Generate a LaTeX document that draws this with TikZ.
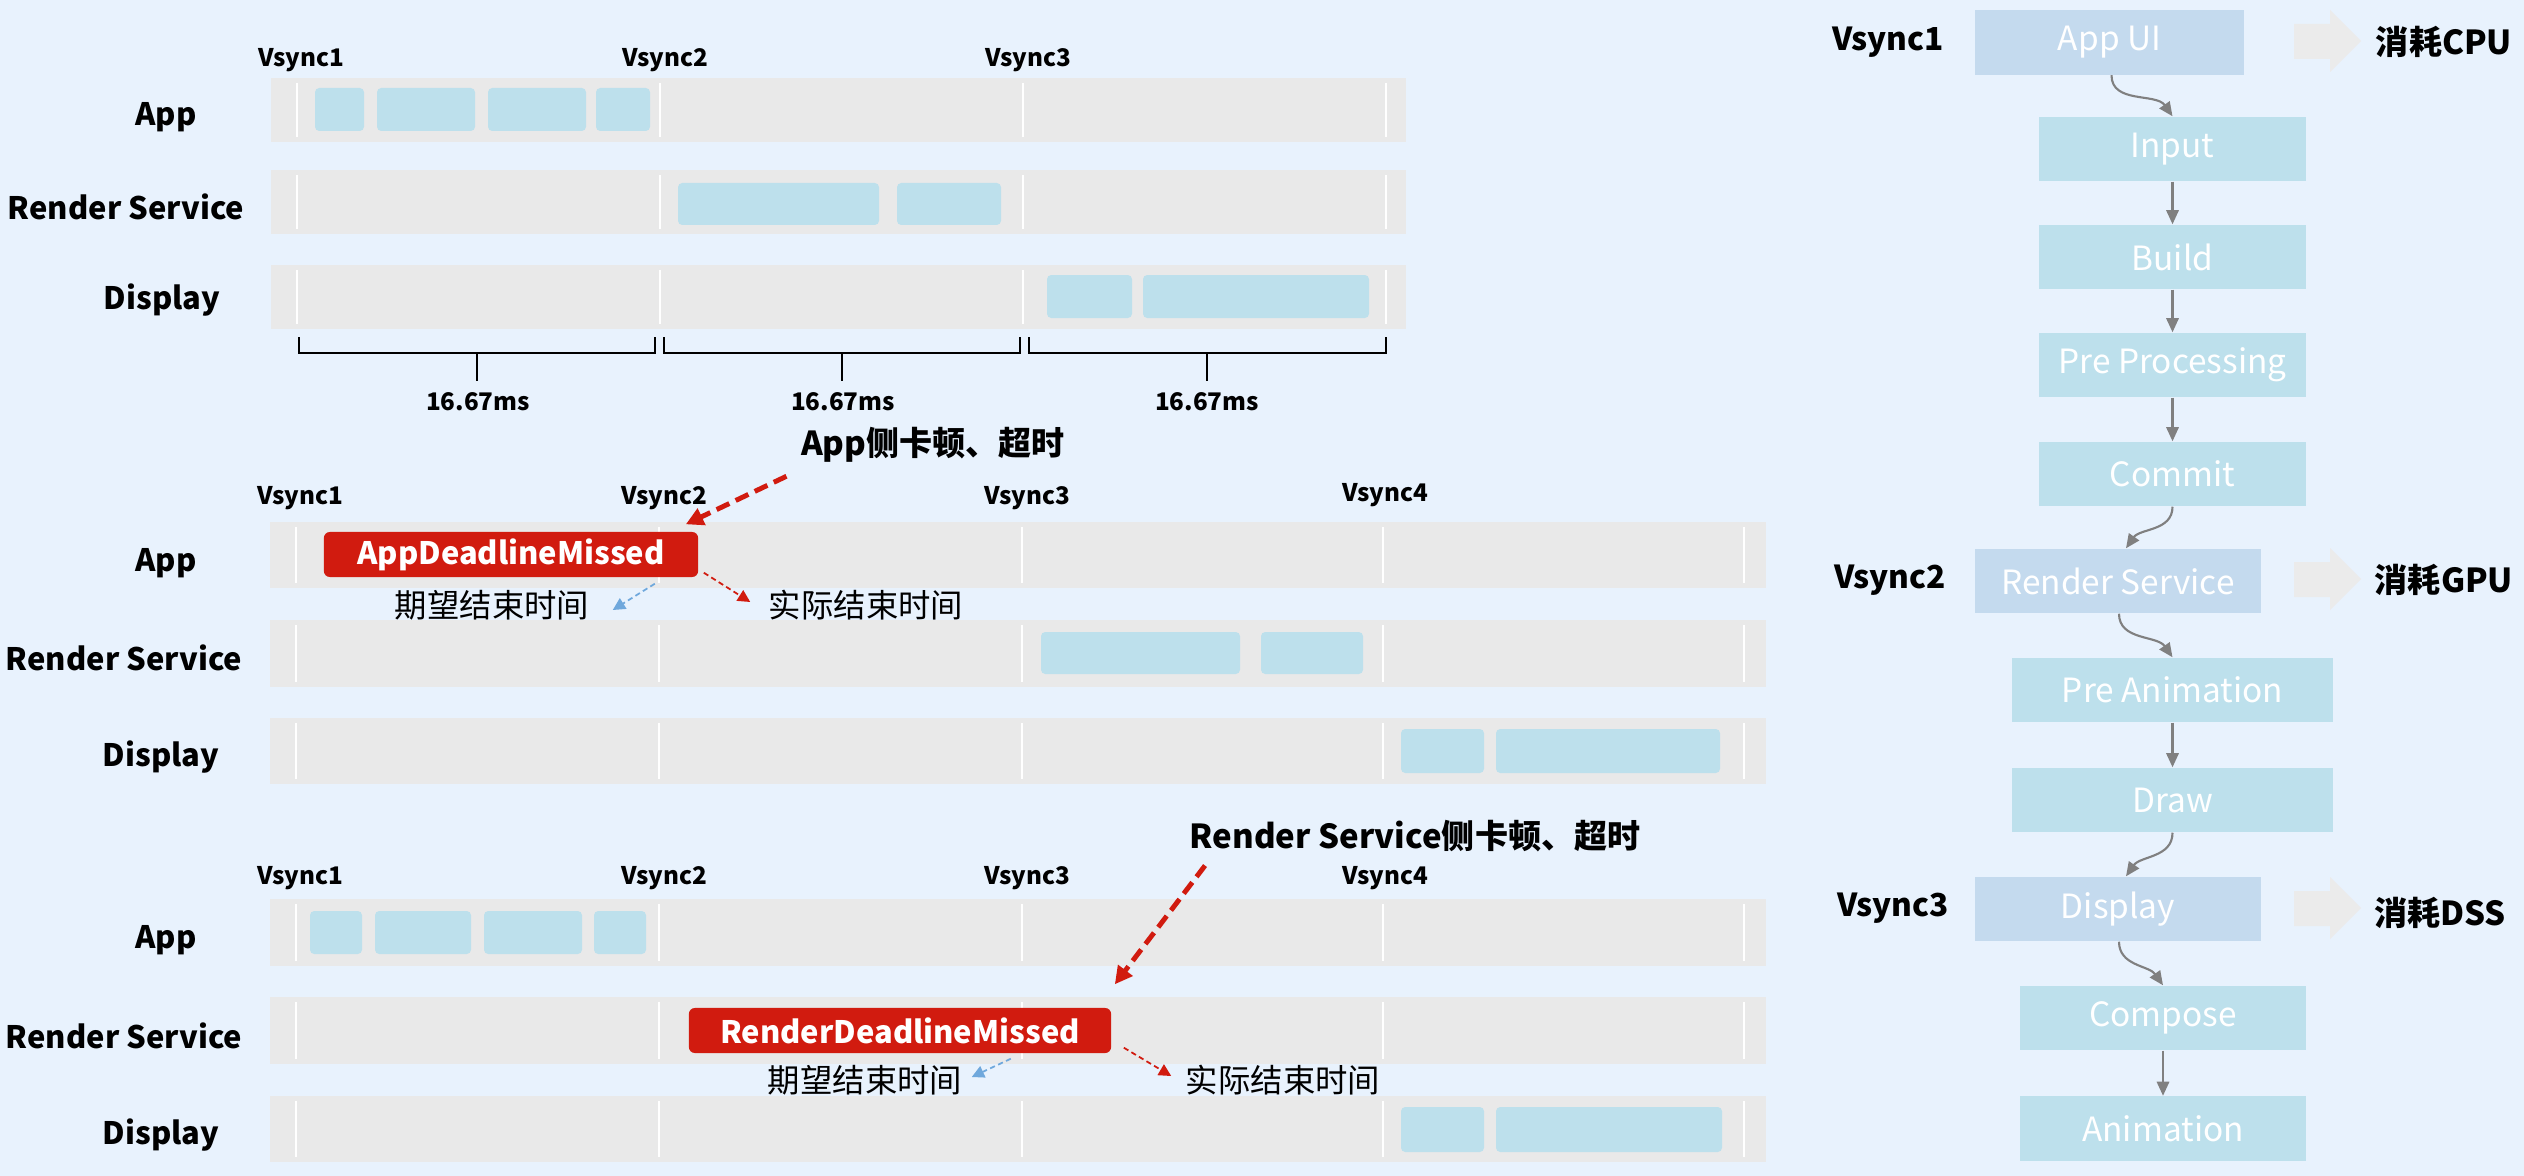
\documentclass[tikz,border=0pt]{standalone}
\usepackage{fontspec}
\setmainfont{Noto Sans CJK SC}
\usetikzlibrary{arrows.meta, positioning}
\definecolor{bgblue}{HTML}{E8F2FD}
\definecolor{trackgray}{HTML}{E9E9E9}
\definecolor{sliceblue}{HTML}{BDE0EC}
\definecolor{stageblue}{HTML}{C4DAEE}
\definecolor{missred}{HTML}{D11B0F}
\definecolor{hintblue}{HTML}{6FA8DC}
\definecolor{flowgray}{HTML}{808080}
\definecolor{pushgray}{HTML}{EBEBEB}

\begin{document}
\begin{tikzpicture}[x=0.01cm, y=-0.01cm,
    lane/.style={font=\fontsize{8.8}{10}\selectfont\bfseries, inner sep=0pt},
    tick/.style={font=\fontsize{6.9}{8}\selectfont\bfseries, inner sep=0pt},
    note/.style={font=\fontsize{9.4}{11}\selectfont\bfseries, inner sep=0pt},
    hint/.style={font=\fontsize{9.2}{11}\selectfont, inner sep=0pt},
    missed/.style={fill=missred, text=white, rounded corners=1.7pt, minimum height=0.45cm, inner sep=0pt, font=\fontsize{8.8}{10}\selectfont\bfseries},
    track/.style={fill=trackgray},
    slice/.style={fill=sliceblue, rounded corners=1.2pt},
    sep/.style={white, line width=0.6pt},
    brace/.style={line width=0.6pt},
    bigdash/.style={missred, line width=1.4pt, dash pattern=on 4pt off 2pt, -{Triangle[length=5pt,width=5pt]}},
    reddash/.style={missred, line width=0.5pt, dash pattern=on 1.5pt off 1pt, -{Triangle[length=3.5pt,width=3.5pt]}},
    bluedash/.style={hintblue, line width=0.5pt, dash pattern=on 1.5pt off 1pt, -{Triangle[length=3.5pt,width=3.5pt]}},
    major/.style={fill=stageblue, text=white, minimum height=0.64cm, inner sep=0pt, font=\fontsize{9.5}{11}\selectfont},
    minor/.style={fill=sliceblue, text=white, minimum height=0.64cm, inner sep=0pt, font=\fontsize{9.5}{11}\selectfont},
    flow/.style={flowgray, line width=0.6pt, -{Triangle[length=4pt,width=3.5pt]}},
    vtag/.style={font=\fontsize{9}{11}\selectfont\bfseries, inner sep=0pt},
]
    \fill[bgblue] (0,0) rectangle (2524,1176);
    \useasboundingbox (0,0) rectangle (2524,1176);

    \node[tick] (a1) at (301,60) {Vsync1};
    \node[tick] (a2) at (665,60) {Vsync2};
    \node[tick] (a3) at (1028,60) {Vsync3};
    \node[lane] (aapp) at (166,117) {App};
    \node[lane] (ars) at (126,207) {Render Service};
    \node[lane] (adisp) at (162,300) {Display};
    \fill[track] (271,78) rectangle (1406,142);
    \fill[track] (271,170) rectangle (1406,234);
    \fill[track] (271,265) rectangle (1406,329);
    \foreach \t/\b in {83/137, 175/229, 270/324}
        \foreach \x in {297, 660, 1023, 1386}
            \draw[sep] (\x,\t) -- (\x,\b);
    \fill[slice] (315,88) rectangle (364,131);
    \fill[slice] (377,88) rectangle (475,131);
    \fill[slice] (488,88) rectangle (586,131);
    \fill[slice] (596,88) rectangle (650,131);
    \fill[slice] (678,183) rectangle (879,225);
    \fill[slice] (897,183) rectangle (1001,225);
    \fill[slice] (1047,275) rectangle (1132,318);
    \fill[slice] (1143,275) rectangle (1369,318);
    \draw[brace] (299,337) -- (299,353) -- (655,353) -- (655,337);
    \draw[brace] (477,353) -- (477,381);
    \draw[brace] (664,337) -- (664,353) -- (1020,353) -- (1020,337);
    \draw[brace] (842,353) -- (842,381);
    \draw[brace] (1029,337) -- (1029,353) -- (1386,353) -- (1386,337);
    \draw[brace] (1207,353) -- (1207,381);
    \node[tick] (d1) at (478,402) {16.67ms};
    \node[tick] (d2) at (843,402) {16.67ms};
    \node[tick] (d3) at (1207,402) {16.67ms};

    \node[note] (annA) at (933,445) {App侧卡顿、超时};
    \node[tick] (b1) at (300,498) {Vsync1};
    \node[tick] (b2) at (664,498) {Vsync2};
    \node[tick] (b3) at (1027,498) {Vsync3};
    \node[tick] (b4) at (1385,495) {Vsync4};
    \node[lane] (bapp) at (166,563) {App};
    \node[lane] (brs) at (124,658) {Render Service};
    \node[lane] (bdisp) at (161,757) {Display};
    \fill[track] (270,522) rectangle (1766,588);
    \fill[track] (270,620) rectangle (1766,687);
    \fill[track] (270,718) rectangle (1766,784);
    \foreach \t/\b in {527/583, 625/682, 723/779}
        \foreach \x in {296, 659, 1022, 1383, 1744}
            \draw[sep] (\x,\t) -- (\x,\b);
    \fill[slice] (1041,632) rectangle (1240,674);
    \fill[slice] (1261,632) rectangle (1363,674);
    \fill[slice] (1401,729) rectangle (1484,773);
    \fill[slice] (1496,729) rectangle (1720,773);
    \node[missed, minimum width=3.74cm] (admiss) at (511,554.5) {AppDeadlineMissed};
    \node[hint] (expA) at (492,605) {期望结束时间};
    \node[hint] (actA) at (866,605) {实际结束时间};
    \draw[bigdash] ([shift={(-14,13)}]annA.south west) -- ([shift={(-13,-7)}]admiss.north east);
    \draw[bluedash] ([shift={(-44,6)}]admiss.south east) -- ([shift={(23,5)}]expA.east);
    \draw[reddash] ([shift={(5,-5)}]admiss.south east) -- ([shift={(-18,-3)}]actA.west);

    \node[note] (annR) at (1415,836) {Render Service侧卡顿、超时};
    \node[tick] (c1) at (300,878) {Vsync1};
    \node[tick] (c2) at (664,878) {Vsync2};
    \node[tick] (c3) at (1027,878) {Vsync3};
    \node[tick] (c4) at (1385,878) {Vsync4};
    \node[lane] (capp) at (166,940) {App};
    \node[lane] (crs) at (124,1036) {Render Service};
    \node[lane] (cdisp) at (161,1135) {Display};
    \fill[track] (270,899) rectangle (1766,966);
    \fill[track] (270,997) rectangle (1766,1064);
    \fill[track] (270,1096) rectangle (1766,1162);
    \foreach \t/\b in {904/961, 1002/1059, 1101/1157}
        \foreach \x in {296, 659, 1022, 1383, 1744}
            \draw[sep] (\x,\t) -- (\x,\b);
    \fill[slice] (310,911) rectangle (362,954);
    \fill[slice] (375,911) rectangle (471,954);
    \fill[slice] (484,911) rectangle (582,954);
    \fill[slice] (594,911) rectangle (646,954);
    \fill[slice] (1401,1107) rectangle (1484,1152);
    \fill[slice] (1496,1107) rectangle (1722,1152);
    \node[missed, minimum width=4.22cm] (rdmiss) at (900,1030.5) {RenderDeadlineMissed};
    \node[hint] (expR) at (865,1080) {期望结束时间};
    \node[hint] (actR) at (1283,1080) {实际结束时间};
    \draw[bigdash] ([shift={(16,13)}]annR.south west) -- ([shift={(3,-23)}]rdmiss.north east);
    \draw[bluedash] ([shift={(-101,5)}]rdmiss.south east) -- ([shift={(9,-3)}]expR.east);
    \draw[reddash] ([shift={(12,-6)}]rdmiss.south east) -- ([shift={(-14,-4)}]actR.west);

    \node[vtag] (r1) at (1888,42) {Vsync1};
    \node[vtag] (r2) at (1890,580) {Vsync2};
    \node[vtag] (r3) at (1893,908) {Vsync3};
    \node[major, minimum width=2.69cm] (appui) at (2109.5,42.5) {App UI};
    \node[minor, minimum width=2.67cm] (input) at (2172.5,149) {Input};
    \node[minor, minimum width=2.67cm] (build) at (2172.5,257) {Build};
    \node[minor, minimum width=2.67cm] (prep) at (2172.5,365) {Pre Processing};
    \node[minor, minimum width=2.67cm] (commit) at (2172.5,474) {Commit};
    \node[major, minimum width=2.86cm] (rsbox) at (2118,581) {Render Service};
    \node[minor, minimum width=3.21cm] (prean) at (2172.5,690) {Pre Animation};
    \node[minor, minimum width=3.21cm] (drawbox) at (2172.5,800) {Draw};
    \node[major, minimum width=2.86cm] (dispbox) at (2118,909) {Display};
    \node[minor, minimum width=2.86cm] (compose) at (2163,1018) {Compose};
    \node[minor, minimum width=2.86cm] (anim) at (2163,1128.5) {Animation};
    \draw[flow] ([shift={(2,0)}]appui.south) to[out=-90, in=125] (input.north);
    \draw[flow] (input) -- (build);
    \draw[flow] (build) -- (prep);
    \draw[flow] (prep) -- (commit);
    \draw[flow] (commit.south) to[out=-90, in=55] ([shift={(8,0)}]rsbox.north);
    \draw[flow] ([shift={(1,0)}]rsbox.south) to[out=-90, in=125] (prean.north);
    \draw[flow] (prean) -- (drawbox);
    \draw[flow] (drawbox.south) to[out=-90, in=55] ([shift={(8,0)}]dispbox.north);
    \draw[flow] ([shift={(1,0)}]dispbox.south) to[out=-90, in=125] (compose.north);
    \draw[flow] (compose) -- (anim);
    \fill[pushgray] (2294,24) -- (2330,24) -- (2330,10) -- (2361,41) -- (2330,72) -- (2330,59) -- (2294,59) -- cycle;
    \fill[pushgray] (2294,562) -- (2330,562) -- (2330,548) -- (2361,579) -- (2330,610) -- (2330,597) -- (2294,597) -- cycle;
    \fill[pushgray] (2294,891) -- (2330,891) -- (2330,877) -- (2361,908) -- (2330,939) -- (2330,926) -- (2294,926) -- cycle;
    \node[note] (cpu) at (2444,42) {消耗CPU};
    \node[note] (gpu) at (2444,580) {消耗GPU};
    \node[note] (dss) at (2440,913) {消耗DSS};
\end{tikzpicture}
\end{document}
